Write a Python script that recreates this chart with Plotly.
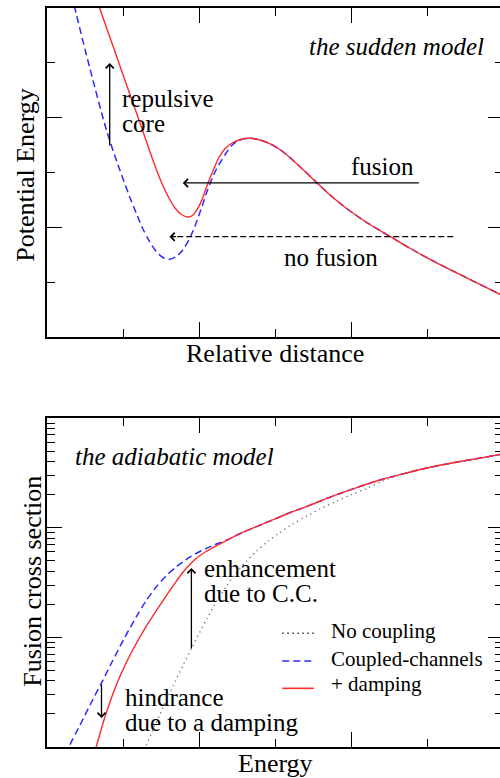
import plotly.graph_objects as go

# ---------------- data ----------------
# top panel: potential vs relative distance (arbitrary units)
dist_damped = [0.642, 0.694, 0.891, 1.087, 1.245, 1.349, 1.441, 1.533, 1.611, 1.690, 1.769,
               1.847, 1.913, 1.978, 2.044, 2.109, 2.188, 2.266, 2.345, 2.437, 2.542, 2.660,
               2.791, 2.922, 3.053, 3.184, 3.354, 3.537, 3.747, 3.970, 4.232, 4.520, 4.782,
               5.057, 5.502, 5.935, 6.0]
pot_damped = [6.237, 5.995, 5.216, 4.441, 3.821, 3.401, 3.046, 2.736, 2.517, 2.344, 2.234,
              2.189, 2.216, 2.334, 2.517, 2.772, 3.046, 3.283, 3.438, 3.538, 3.602, 3.624,
              3.598, 3.533, 3.429, 3.288, 3.073, 2.832, 2.562, 2.316, 2.066, 1.829, 1.614,
              1.404, 1.094, 0.797, 0.755]
dist_cc = [0.328, 0.367, 0.563, 0.782, 0.930, 1.087, 1.179, 1.262, 1.349, 1.437, 1.520,
           1.611, 1.703, 1.786, 1.873, 1.961, 2.037, 2.113, 2.223, 2.354, 2.437, 2.542, 2.660,
           2.791, 2.922, 3.053, 3.184, 3.354, 3.537, 3.747, 3.970, 4.232, 4.520, 4.782,
           5.057, 5.502, 5.935, 6.0]
pot_cc = [6.237, 5.995, 4.906, 3.775, 3.155, 2.559, 2.243, 1.970, 1.742, 1.559, 1.454,
          1.417, 1.468, 1.587, 1.787, 2.074, 2.371, 2.681, 3.046, 3.347, 3.502, 3.593, 3.624,
          3.598, 3.533, 3.429, 3.288, 3.073, 2.832, 2.562, 2.316, 2.066, 1.829, 1.614,
          1.404, 1.094, 0.797, 0.755]

# bottom panel: fusion cross section vs energy
e_nocoup = [1.271, 1.310, 1.389, 1.480, 1.585, 1.690, 1.795, 1.900, 2.004, 2.109, 2.227,
            2.358, 2.489, 2.620, 2.751, 2.895, 3.053, 3.223, 3.406, 3.603, 3.799, 3.996,
            4.192, 4.402, 4.729, 5.057, 5.437, 5.804, 6.0]
sig_nocoup = [0.845, 1.043, 1.40, 1.94, 2.80, 4.00, 5.65, 7.91, 10.9, 15.0, 21.0,
              29.0, 38.6, 49.1, 60.7, 74.0, 89.3, 107, 126, 150, 173, 199,
              225, 264, 315, 357, 401, 444, 470]
e_cc = [0.262, 0.301, 0.432, 0.563, 0.717, 0.852, 1.009, 1.175, 1.297, 1.437, 1.559,
        1.699, 1.786, 1.873, 1.961, 2.083, 2.214, 2.371, 2.528, 2.738, 2.961, 3.184, 3.406,
        3.616, 3.839, 4.114, 4.402, 4.729, 5.057, 5.437, 5.804, 6.0]
sig_cc = [0.845, 1.043, 1.57, 2.39, 3.84, 5.90, 9.55, 15.4, 21.2, 28.8, 35.9,
          43.8, 48.6, 53.5, 58.1, 64.1, 70.2, 77.1, 87.5, 101, 117, 136, 155,
          177, 203, 237, 275, 315, 357, 401, 444, 470]
e_damp = [0.616, 0.655, 0.707, 0.760, 0.838, 0.917, 1.022, 1.127, 1.258, 1.389, 1.507,
          1.611, 1.703, 1.786, 1.873, 1.961, 2.083, 2.214, 2.371, 2.528, 2.738, 2.961,
          3.184, 3.406, 3.616, 3.839, 4.114, 4.402, 4.729, 5.057, 5.437, 5.804, 6.0]
sig_damp = [0.845, 1.043, 1.40, 1.86, 2.68, 3.75, 5.48, 7.66, 11.1, 15.5, 20.6,
            26.4, 32.6, 39.0, 45.7, 52.4, 60.0, 67.6, 77.1, 87.5, 101, 117,
            136, 155, 177, 203, 237, 275, 315, 357, 401, 444, 470]

legend_names = ["No coupling", "Coupled-channels", "+ damping"]

# ---------------- style ----------------
FONT = "Liberation Serif, Times New Roman, DejaVu Serif, serif"
RED = "#ff2a2a"
BLUE = "#2b2bff"
GREY = "#707070"

fig = go.Figure()

# top panel
fig.add_trace(go.Scatter(x=dist_cc, y=pot_cc, mode="lines", xaxis="x", yaxis="y",
                         line=dict(color=BLUE, width=1.5, dash="7px,4px", shape="spline", smoothing=0.8),
                         showlegend=False, hoverinfo="skip"))
fig.add_trace(go.Scatter(x=dist_damped, y=pot_damped, mode="lines", xaxis="x", yaxis="y",
                         line=dict(color=RED, width=1.4, shape="spline", smoothing=0.8),
                         showlegend=False, hoverinfo="skip"))
# bottom panel
fig.add_trace(go.Scatter(x=e_nocoup, y=sig_nocoup, mode="lines", xaxis="x2", yaxis="y2",
                         line=dict(color=GREY, width=1.3, dash="1.3px,3.7px", shape="spline", smoothing=0.8),
                         showlegend=False, hoverinfo="skip"))
fig.add_trace(go.Scatter(x=e_cc, y=sig_cc, mode="lines", xaxis="x2", yaxis="y2",
                         line=dict(color=BLUE, width=1.5, dash="7px,4px", shape="spline", smoothing=0.8),
                         showlegend=False, hoverinfo="skip"))
fig.add_trace(go.Scatter(x=e_damp, y=sig_damp, mode="lines", xaxis="x2", yaxis="y2",
                         line=dict(color=RED, width=1.4, shape="spline", smoothing=0.8),
                         showlegend=False, hoverinfo="skip"))

axis_common = dict(showline=True, linecolor="black", linewidth=1.6, mirror="ticks",
                   ticks="inside", ticklen=15, tickwidth=1.4, tickcolor="black",
                   showticklabels=False, showgrid=False, zeroline=False)
minor_lin = dict(dtick=1, ticks="inside", ticklen=8, tickwidth=1.4, tickcolor="black", showgrid=False)

fig.update_layout(
    width=505, height=778,
    margin=dict(l=47, r=0, t=8, b=31),
    paper_bgcolor="white", plot_bgcolor="white",
    font=dict(family=FONT, size=25, color="black"),
    showlegend=False,
    xaxis=dict(domain=[0, 1], anchor="y", range=[0, 6], tick0=0, dtick=2,
               minor=minor_lin, **axis_common),
    yaxis=dict(domain=[0.5548, 1], anchor="x", range=[0, 6], tick0=0, dtick=2,
               minor=minor_lin, **axis_common),
    xaxis2=dict(domain=[0, 1], anchor="y2", range=[0, 6], tick0=0, dtick=2,
                minor=minor_lin, **axis_common),
    yaxis2=dict(domain=[0, 0.4452], anchor="x2", type="log", range=[0, 3], dtick=1,
                minor=dict(dtick="D1", ticks="inside", ticklen=8, tickwidth=1.4,
                           tickcolor="black", showgrid=False),
                **axis_common),
)

ann = []


def txt(text, x, y, xref, yref, xanchor="left", size=25, italic=False, angle=0):
    ann.append(dict(text=text, x=x, y=y, xref=xref, yref=yref, xanchor=xanchor,
                    yanchor="middle", showarrow=False, textangle=angle,
                    font=dict(family=FONT, size=size, color="black",
                              style="italic" if italic else "normal")))


def arrow(x, y, ax, ay, xref, yref):
    ann.append(dict(text="", x=x, y=y, ax=ax, ay=ay, xref=xref, yref=yref,
                    axref=xref, ayref=yref, showarrow=True, arrowhead=4,
                    arrowsize=1.2, arrowwidth=1.3, arrowcolor="black", standoff=0))


# top panel texts
txt("the sudden model", 5.778, 5.302, "x", "y", xanchor="right", italic=True)
txt("repulsive", 0.956, 4.353, "x", "y")
txt("core", 0.956, 3.898, "x", "y")
txt("fusion", 3.970, 3.113, "x", "y")
txt("no fusion", 3.096, 1.441, "x", "y")
arrow(0.825, 4.997, 0.825, 3.465, "x", "y")
arrow(1.786, 2.809, 4.913, 2.809, "x", "y")
# dashed arrow: dashed shaft + head
fig.add_shape(type="line", xref="x", yref="y", x0=5.345, y0=1.829, x1=1.64, y1=1.829,
              line=dict(color="black", width=1.3, dash="6px,3px"))
ann.append(dict(text="", x=1.611, y=1.829, xref="x", yref="y", ax=8, ay=0,
                showarrow=True, arrowhead=4, arrowsize=1.2, arrowwidth=1.3,
                arrowcolor="black", standoff=0))

# bottom panel texts (log axis -> log10 positions)
txt("the adiabatic model", 0.345, 2.651, "x2", "y2", italic=True)
txt("enhancement", 2.044, 1.632, "x2", "y2")
txt("due to C.C.", 2.044, 1.404, "x2", "y2")
txt("hindrance", 1.000, 0.447, "x2", "y2")
txt("due to a damping", 1.000, 0.219, "x2", "y2")
arrow(1.900, 1.632, 1.900, 0.884, "x2", "y2")
arrow(0.717, 0.264, 0.717, 0.584, "x2", "y2")

# axis titles
txt("Relative distance", 0.5, 0.5323, "paper", "paper", xanchor="center", size=26)
txt("Energy", 0.5, -0.0217, "paper", "paper", xanchor="center", size=26)
txt("Potential Energy", -0.0489, 0.774, "paper", "paper", xanchor="center", size=26, angle=-90)
txt("Fusion cross section", -0.0306, 0.2237, "paper", "paper", xanchor="center", size=26, angle=-90)

# legend (drawn by hand)
leg_styles = [dict(color="#333333", width=1.3, dash="1.5px,3.5px"),
              dict(color=BLUE, width=1.5, dash="7px,4px"),
              dict(color=RED, width=1.6)]
leg_line_y = [0.1539, 0.1164, 0.0794]
leg_text_y = [0.157, 0.1187, 0.0848]
for name, st, ly, ty in zip(legend_names, leg_styles, leg_line_y, leg_text_y):
    fig.add_shape(type="line", xref="paper", yref="paper", x0=0.516, x1=0.5852,
                  y0=ly, y1=ly, line=st)
    txt(name, 0.6179, ty, "paper", "paper", size=21)

fig.update_layout(annotations=ann)

fig.write_html("out.html", config={"displayModeBar": False},
               post_script="document.documentElement.style.overflow='hidden';"
                           "document.body.style.overflow='hidden';document.body.style.margin='0';")
